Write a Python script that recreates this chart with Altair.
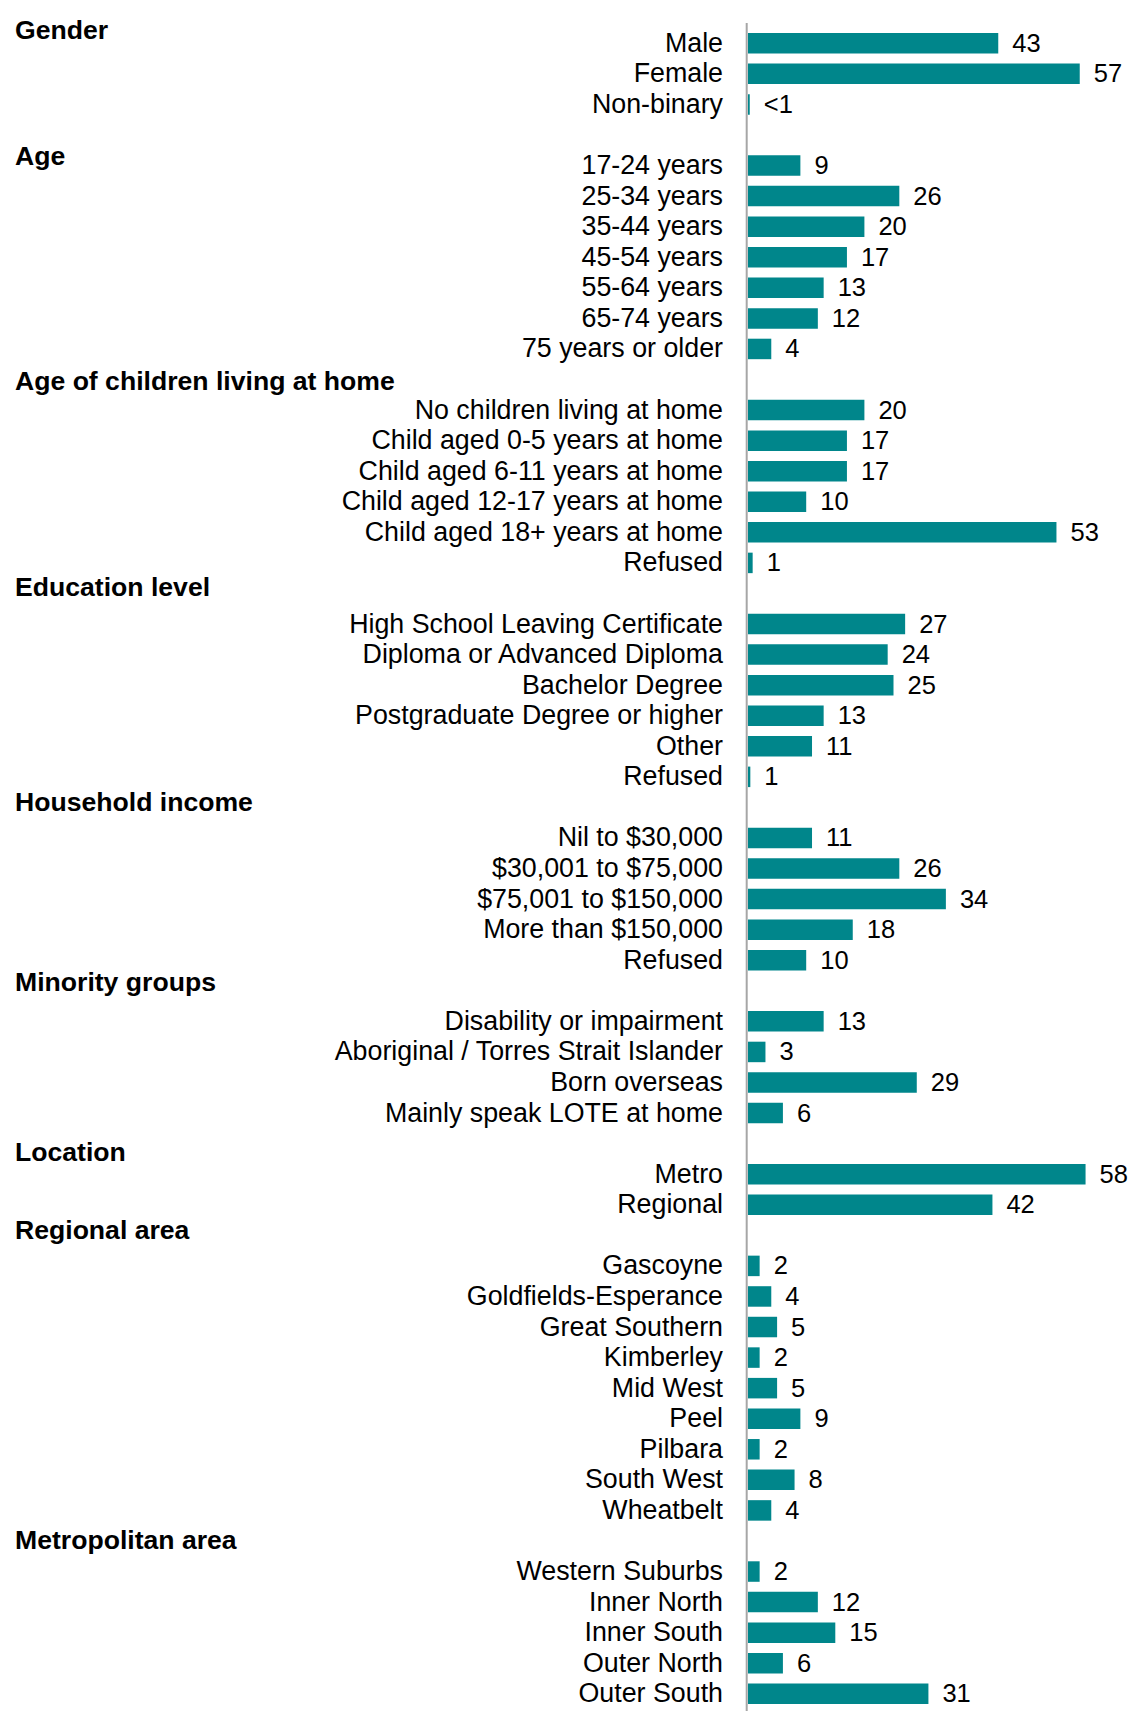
import altair as alt
import pandas as pd

# ---------------- data ----------------
groups = [
    "Gender",
    "Age",
    "Age of children living at home",
    "Education level",
    "Household income",
    "Minority groups",
    "Location",
    "Regional area",
    "Metropolitan area",
]

categories = [
    ["Male", "Female", "Non-binary"],
    ["17-24 years", "25-34 years", "35-44 years", "45-54 years", "55-64 years",
     "65-74 years", "75 years or older"],
    ["No children living at home", "Child aged 0-5 years at home",
     "Child aged 6-11 years at home", "Child aged 12-17 years at home",
     "Child aged 18+ years at home", "Refused"],
    ["High School Leaving Certificate", "Diploma or Advanced Diploma",
     "Bachelor Degree", "Postgraduate Degree or higher", "Other", "Refused"],
    ["Nil to $30,000", "$30,001 to $75,000", "$75,001 to $150,000",
     "More than $150,000", "Refused"],
    ["Disability or impairment", "Aboriginal / Torres Strait Islander",
     "Born overseas", "Mainly speak LOTE at home"],
    ["Metro", "Regional"],
    ["Gascoyne", "Goldfields-Esperance", "Great Southern", "Kimberley",
     "Mid West", "Peel", "Pilbara", "South West", "Wheatbelt"],
    ["Western Suburbs", "Inner North", "Inner South", "Outer North", "Outer South"],
]

values = [
    [43, 57, 0.3],
    [9, 26, 20, 17, 13, 12, 4],
    [20, 17, 17, 10, 53, 0.8],
    [27, 24, 25, 13, 11, 0.4],
    [11, 26, 34, 18, 10],
    [13, 3, 29, 6],
    [58, 42],
    [2, 4, 5, 2, 5, 9, 2, 8, 4],
    [2, 12, 15, 6, 31],
]

labels = [
    ["43", "57", "<1"],
    ["9", "26", "20", "17", "13", "12", "4"],
    ["20", "17", "17", "10", "53", "1"],
    ["27", "24", "25", "13", "11", "1"],
    ["11", "26", "34", "18", "10"],
    ["13", "3", "29", "6"],
    ["58", "42"],
    ["2", "4", "5", "2", "5", "9", "2", "8", "4"],
    ["2", "12", "15", "6", "31"],
]

# ---------------- layout ----------------
HEADER_SHIFT = [-0.42, -0.29, -0.95, -1.18, -1.16, -1.27, -0.7, -1.17, -1.03]
TEAL = "#00868B"
FONT = "Liberation Sans"
W, H = 1121, 1703
X0 = 740          # pixel of value 0
PX_PER_UNIT = 5.82
Y0 = 30.3         # pixel of first row
ROW_H = 30.75
LABEL_SIZE = 26.8
VALUE_SIZE = 25.5
HEAD_SIZE = 26.6

rows, heads = [], []
idx = 0
for gi, (g, cs, vs, ls) in enumerate(zip(groups, categories, values, labels)):
    if gi > 0:
        idx += 1
    heads.append({"header": g, "row": idx + HEADER_SHIFT[gi]})
    for c, v, l in zip(cs, vs, ls):
        rows.append({"group": g, "category": c, "value": v, "label": l,
                     "row": idx, "zero": 0})
        idx += 1
last_row = idx - 1

df = pd.DataFrame(rows)
hd = pd.DataFrame(heads)
axis_df = pd.DataFrame({"zero": [0]})

XMAX = 65
xscale = alt.Scale(domain=[0, XMAX], range=[X0, X0 + XMAX * PX_PER_UNIT], nice=False, zero=False)
yscale = alt.Scale(domain=[0, last_row], range=[Y0, Y0 + last_row * ROW_H], nice=False, zero=False)

axis_line = alt.Chart(axis_df).mark_rule(color="#A6A6A6", strokeWidth=2).encode(
    x=alt.value(X0 - 1.3),
    y=alt.value(15),
    y2=alt.value(H),
)

bars = alt.Chart(df).mark_bar(orient="horizontal", size=20.5, color=TEAL).encode(
    x=alt.X("value:Q", scale=xscale, axis=None, stack=None),
    x2=alt.X2("zero:Q"),
    y=alt.Y("row:Q", scale=yscale, axis=None),
)

value_text = alt.Chart(df).mark_text(
    align="left", baseline="middle", dx=14, dy=0.5, font=FONT, fontSize=VALUE_SIZE, color="#000000"
).encode(
    x=alt.X("value:Q", scale=xscale, axis=None),
    y=alt.Y("row:Q", scale=yscale, axis=None),
    text="label:N",
)

cat_text = alt.Chart(df).mark_text(
    align="right", baseline="middle", dx=-25, dy=0.5, font=FONT, fontSize=LABEL_SIZE, color="#000000"
).encode(
    x=alt.X("zero:Q", scale=xscale, axis=None),
    y=alt.Y("row:Q", scale=yscale, axis=None),
    text="category:N",
)

head_text = alt.Chart(hd).mark_text(
    align="left", baseline="middle", dy=0.5, font=FONT, fontSize=HEAD_SIZE, fontWeight="bold", color="#000000"
).encode(
    x=alt.value(7),
    y=alt.Y("row:Q", scale=yscale, axis=None),
    text="header:N",
)

chart = alt.layer(axis_line, bars, value_text, cat_text, head_text).properties(
    width=W, height=H, padding=0, autosize="none", background="white"
).configure_view(stroke=None)

chart.save("out.html", embed_options={"renderer": "svg", "actions": False})
